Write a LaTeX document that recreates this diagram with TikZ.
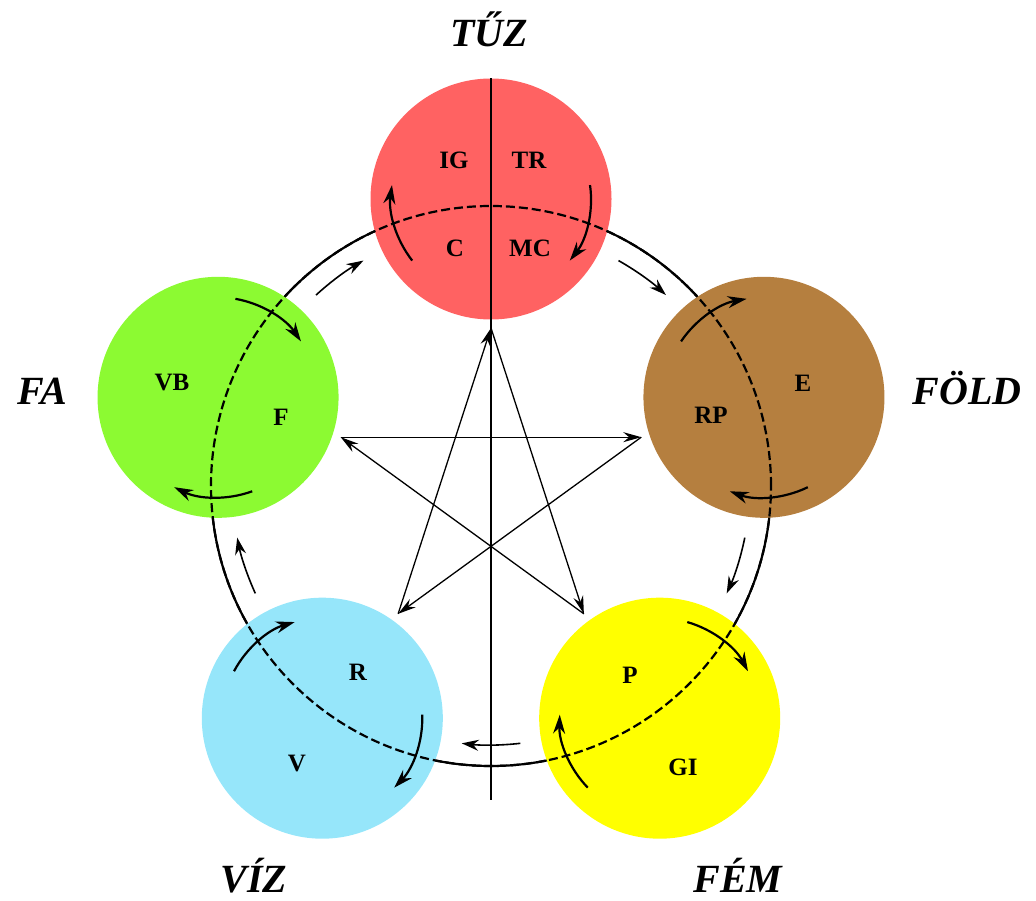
\documentclass[tikz,border=0pt]{standalone}
\usepackage{fontspec}
\setmainfont{Liberation Serif}
\usetikzlibrary{arrows.meta,calc}
\definecolor{firec}{RGB}{255,98,98}
\definecolor{earthc}{RGB}{181,127,63}
\definecolor{metalc}{RGB}{255,255,0}
\definecolor{waterc}{RGB}{150,230,250}
\definecolor{woodc}{RGB}{140,250,50}
\begin{document}
\begin{tikzpicture}[x=1pt,y=1pt,
  elem/.style={circle,minimum size=241pt,inner sep=0pt,draw=none},
  lab/.style={font=\fontsize{25}{25}\selectfont\bfseries,inner sep=0pt},
  ename/.style={font=\fontsize{40}{40}\selectfont\bfseries\itshape,inner sep=0pt,anchor=base},
  cycle/.style={line width=2.2pt},
  star/.style={line width=1.3pt,-{Stealth[length=18pt,width=10pt]}},
  inarc/.style={line width=2.2pt,-{Stealth[length=19pt,width=12pt]}},
  outarc/.style={line width=1.6pt,-{Stealth[length=17pt,width=11pt]}}]
\useasboundingbox (0,0) rectangle (1036,-901);
\coordinate (O) at (491,-486);
% generating cycle (solid part)
\draw[cycle] (O) circle[radius=280];
% element circles
\node[elem,fill=firec]  (fire)  at ($(O)+(90:287)$) {};
\node[elem,fill=earthc] (earth) at ($(O)+(18:287)$) {};
\node[elem,fill=metalc] (metal) at ($(O)+(-54:287)$) {};
\node[elem,fill=waterc] (water) at ($(O)+(-126:287)$) {};
\node[elem,fill=woodc]  (wood)  at ($(O)+(162:287)$) {};
% dashed part of the cycle inside the circles
\draw[cycle,dash pattern=on 9pt off 4pt] (O) circle[radius=280];
% vertical axis
\coordinate (vbot) at (491,-800);
\draw[line width=1.6pt] (fire.north) -- (vbot);
% star (controlling cycle)
\foreach \i/\a in {0/90,1/18,2/-54,3/-126,4/162}
  \coordinate (s\i) at ($(O)+(\a:158)$);
\draw[star] (s0) -- (s2);
\draw[star] (s2) -- (s4);
\draw[star] (s4) -- (s1);
\draw[star] (s1) -- (s3);
\draw[star] (s3) -- (s0);
% arrows along the cycle between the circles
\foreach \m in {126,54,-18,-90,198}
  \draw[outarc] ($(O)+(\m+6.5:259)$) arc[start angle=\m+6.5, end angle=\m-6.5, radius=259];
% arrows inside the circles
\foreach \n/\t in {fire/90,earth/18,metal/-54,water/-126,wood/162}{
  \draw[inarc] ($(\n.center)+(\t+105+23:100)$) arc[start angle=\t+105+23, end angle=\t+105-23, radius=100];
  \draw[inarc] ($(\n.center)+(\t-105+23:100)$) arc[start angle=\t-105+23, end angle=\t-105-23, radius=100];
}
% inner labels
\node[lab] (ig) at (454,-160) {IG};
\node[lab] (tr) at (529,-160) {TR};
\node[lab] (c)  at (455,-248) {C};
\node[lab] (mc) at (530,-248) {MC};
\node[lab] (e)  at (803,-383) {E};
\node[lab] (rp) at (711,-415) {RP};
\node[lab] (p)  at (630,-675) {P};
\node[lab] (gi) at (683,-767) {GI};
\node[lab] (r)  at (358,-672) {R};
\node[lab] (v)  at (297,-763) {V};
\node[lab] (vb) at (172,-383) {VB};
\node[lab] (f)  at (281,-417) {F};
% element names
\node[ename] (ntuz)  at (489,-47)  {TŰZ};
\node[ename] (nfold) at (967,-404) {FÖLD};
\node[ename] (nfem)  at (738,-892) {FÉM};
\node[ename] (nviz)  at (254,-892) {VÍZ};
\node[ename] (nfa)   at (42,-404)  {FA};
\end{tikzpicture}
\end{document}
